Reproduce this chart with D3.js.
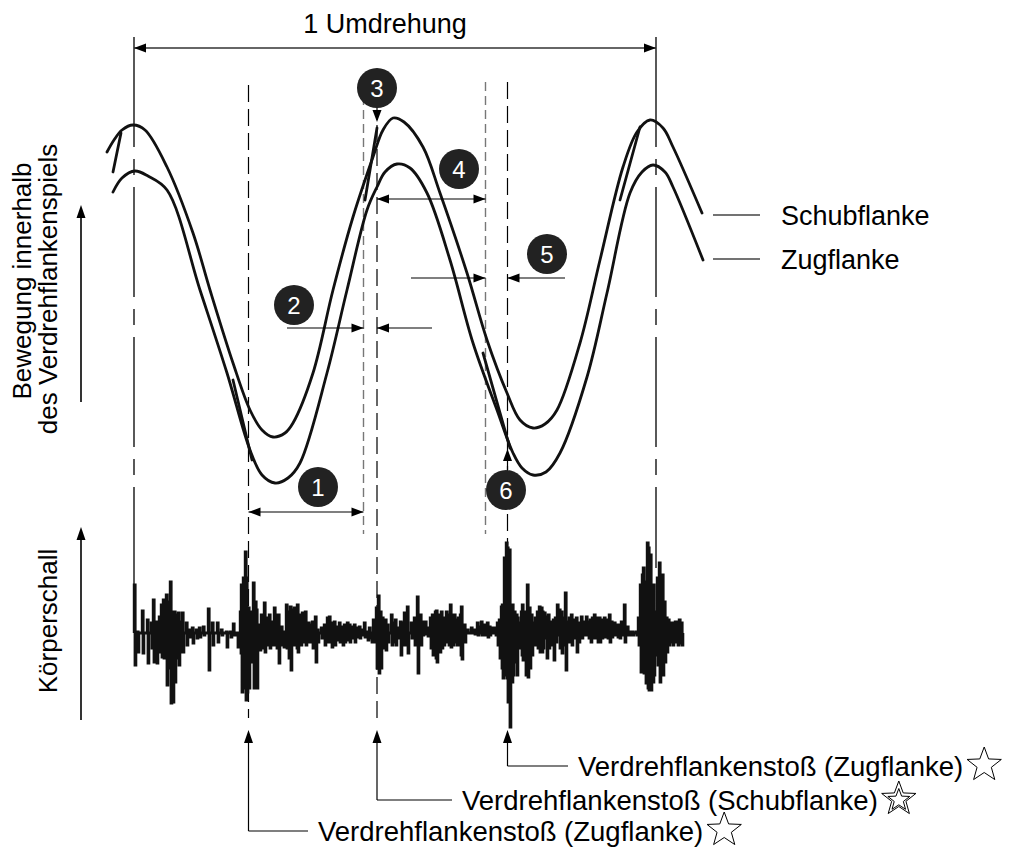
<!DOCTYPE html>
<html>
<head>
<meta charset="utf-8">
<script src="https://cdn.jsdelivr.net/npm/d3@7"></script>
<style>
  html, body { margin: 0; background: #fff; }
  svg { display: block; }
  text { font-family: Arial, "Liberation Sans", Helvetica, sans-serif; fill: #000; }
</style>
</head>
<body>
<svg id="chart" width="1013" height="861"></svg>
<script>
// ---------- data ----------
// Rotation measured in samples; one revolution = 522 samples.
const samplesPerRev = 522;

// Flank motion inside the torsional backlash (arbitrary displacement units)
const schubCurve = [[-27,148],[-20,160],[-12,170],[-1,175],[11,170],[33,133],[59,67],[76,10],[99,-63],[116,-110],[128,-130],[139,-137],[151,-133],[159,-123],[179,-73],[199,10],[219,83],[239,143],[249,170],[259,182],[270,178],[289,153],[306,107],[333,27],[353,-40],[373,-93],[386,-120],[399,-128],[411,-124],[423,-110],[446,-43],[466,40],[489,133],[503,168],[516,180],[529,172],[539,153],[568,87]];
const zugCurve = [[-21,108],[-12,122],[1,129],[14,124],[33,110],[66,10],[93,-73],[116,-150],[128,-175],[141,-183],[154,-178],[166,-163],[193,-73],[213,10],[233,90],[243,113],[251,128],[263,136],[276,132],[293,107],[316,40],[339,-43],[363,-110],[379,-153],[388,-168],[399,-175],[412,-172],[426,-153],[453,-77],[473,7],[496,107],[508,128],[519,135],[531,128],[539,113],[569,40]];
// Flank changes (jumps from one flank to the other)
const flankJumps = [[[-21,128],[-13,167]],[[99,-80],[118,-160]],[[231,100],[243,172]],[[349,-53],[376,-148]],[[486,100],[506,173]]];

// Structure-borne noise: [sample, peak up, peak down]
const bodySound = [[1,48,-32],[4,1,-19],[9,22,-20],[14,13,-30],[18,10,-15],[20,33,-29],[23,11,-30],[26,16,-19],[28,28,-24],[30,33,-25],[33,38,-52],[35,31,-35],[37,51,-70],[39,21,-69],[41,21,-49],[43,18,-25],[45,20,-32],[48,11,-19],[49,20,-19],[53,10,-12],[56,3,-4],[59,5,-10],[63,3,-5],[66,5,-4],[70,6,-2],[75,24,-37],[79,10,-12],[84,10,-9],[88,3,-2],[93,1,-14],[97,1,-4],[100,9,-2],[104,-2,-14],[107,21,-20],[108,48,-59],[110,55,-55],[112,81,-67],[113,55,-59],[115,25,-55],[118,21,-29],[120,50,-55],[122,31,-55],[123,23,-55],[126,8,-17],[128,18,-15],[131,30,-19],[133,15,-12],[136,18,-15],[138,11,-12],[141,25,-12],[143,18,-15],[145,18,-30],[148,6,-12],[150,1,-14],[153,28,-15],[155,21,-25],[157,26,-37],[159,23,-12],[161,25,-12],[163,21,-15],[164,28,-19],[167,18,-12],[169,20,-9],[172,21,-12],[175,10,-9],[178,8,-9],[179,11,-15],[182,16,-29],[184,3,-9],[188,5,-5],[191,8,-12],[194,15,-9],[196,16,-9],[198,10,-14],[201,11,-12],[204,6,-7],[206,10,-9],[209,6,-12],[211,8,-9],[214,10,-7],[216,8,-9],[219,6,-5],[221,8,-9],[224,5,-4],[226,6,-5],[229,3,-2],[231,10,-4],[234,1,-7],[236,5,-5],[238,0,-9],[240,13,-9],[243,25,-35],[245,37,-40],[247,21,-35],[249,15,-15],[252,13,-17],[254,8,-9],[258,18,-12],[260,10,-9],[262,13,-12],[264,5,-5],[267,11,-22],[269,10,-12],[271,20,-12],[274,26,-20],[278,10,-5],[281,15,-12],[284,36,-40],[287,18,-12],[289,11,-2],[292,11,-1],[294,5,-3],[297,15,-15],[299,18,-22],[302,21,-25],[303,22,-29],[306,18,-19],[308,21,-15],[310,15,-12],[313,21,-9],[315,18,-12],[317,28,-14],[319,18,-12],[321,18,-9],[323,13,-12],[325,15,-12],[327,18,-22],[328,26,-26],[331,8,-9],[334,3,0],[338,5,0],[341,3,-1],[344,10,-2],[346,6,0],[348,11,-2],[351,8,-2],[354,10,-4],[356,6,-2],[359,5,0],[362,5,-2],[364,10,-12],[366,13,-25],[368,26,-35],[369,28,-45],[371,75,-42],[373,90,-45],[374,85,-69],[376,83,-94],[378,28,-49],[379,28,-42],[381,21,-29],[383,18,-42],[384,15,-15],[386,10,-15],[388,21,-22],[389,28,-27],[392,21,-42],[394,48,-44],[396,25,-35],[398,18,-22],[400,10,-12],[402,15,-12],[404,21,-15],[406,26,-19],[408,25,-19],[409,21,-15],[411,20,-5],[413,16,-25],[415,18,-15],[418,11,-12],[420,13,-27],[422,15,-9],[424,28,-2],[426,23,-15],[428,21,-20],[430,15,-12],[432,40,-37],[434,11,-9],[436,15,-9],[438,18,-12],[441,13,-5],[443,15,-19],[445,10,-9],[448,16,-5],[450,11,-2],[453,16,-2],[455,11,-5],[457,13,-9],[459,15,-5],[461,18,-5],[464,15,-9],[466,15,-9],[468,13,-5],[471,15,-4],[474,13,-5],[476,18,-9],[478,11,-4],[481,10,-2],[484,8,-4],[486,8,-5],[488,11,-2],[491,28,-9],[494,6,-2],[496,1,-2],[499,1,-2],[503,1,-2],[505,15,-12],[507,48,-39],[509,58,-39],[510,65,-40],[512,51,-50],[514,90,-55],[515,85,-57],[517,78,-57],[519,48,-49],[520,48,-42],[523,21,-22],[524,55,-32],[526,70,-49],[528,58,-42],[529,58,-42],[531,31,-29],[533,15,-19],[535,13,-12],[537,10,-9],[539,10,-12],[542,11,-9],[544,11,-12],[546,13,-10],[548,10,-12]];

// Reference marks (sample positions)
const revolutionMarks = [0, samplesPerRev];
const impactMarks = [114.5, 243, 373.5];     // flank impacts
const flankMarks = [229.5, 351.5];           // flank change begins

// Numbered badges: [number, sample, displacement]
const badges = [[1,184,-187],[2,160,-5],[3,243,212],[4,325,131],[5,413,46],[6,372,-190]];

const seriesLabels = ["Schubflanke", "Zugflanke"];
const impactLabels = ["Verdrehflankenstoß (Zugflanke)", "Verdrehflankenstoß (Schubflanke)", "Verdrehflankenstoß (Zugflanke)"];

// ---------- scales ----------
const svg = d3.select("#chart");
const x = d3.scaleLinear().domain([0, samplesPerRev]).range([134, 656]);
const yMove = d3.scaleLinear().domain([-200, 200]).range([500, 100]);
const ySig = d3.scaleLinear().domain([-110, 110]).range([743, 523]);

function head(g, tx, ty, dx, dy, len = 12, half = 4.5) {
  const bx = tx - dx * len, by = ty - dy * len, px = -dy, py = dx;
  g.append("path")
    .attr("d", `M${tx},${ty}L${bx + px * half},${by + py * half}L${bx - px * half},${by - py * half}Z`)
    .attr("fill", "#000");
}
function starPath(cx, cy, R, r) {
  const pts = [];
  for (let i = 0; i < 10; i++) {
    const a = -Math.PI / 2 + i * Math.PI / 5, rr = i % 2 ? r : R;
    pts.push([cx + rr * Math.cos(a), cy + rr * Math.sin(a)]);
  }
  return "M" + pts.map(p => p.join(",")).join("L") + "Z";
}

const guides = svg.append("g");
// revolution boundaries
guides.selectAll(".rev").data(revolutionMarks).join("line")
  .attr("x1", d => x(d)).attr("x2", d => x(d))
  .attr("y1", 37).attr("y2", (d, i) => i === 0 ? 586 : 568)
  .attr("stroke", "#000").attr("stroke-width", 1.3)
  .attr("stroke-dasharray", "110,12,16,12");
// impact lines
const impactTop = [85, 125, 82], impactBottom = [718, 718, 545];
guides.selectAll(".imp").data(impactMarks).join("line")
  .attr("x1", d => x(d)).attr("x2", d => x(d))
  .attr("y1", (d, i) => impactTop[i]).attr("y2", (d, i) => impactBottom[i])
  .attr("stroke", "#000").attr("stroke-width", 1.2)
  .attr("stroke-dasharray", "17,7");
// flank change lines
guides.selectAll(".flk").data(flankMarks).join("line")
  .attr("x1", d => x(d)).attr("x2", d => x(d))
  .attr("y1", 82).attr("y2", 534)
  .attr("stroke", "#777").attr("stroke-width", 1.4)
  .attr("stroke-dasharray", "9,5");

// one revolution dimension
const dim = svg.append("g");
dim.append("line").attr("x1", x(0)).attr("x2", x(samplesPerRev)).attr("y1", 48).attr("y2", 48)
  .attr("stroke", "#333").attr("stroke-width", 1.3);
head(dim, x(0), 48, -1, 0);
head(dim, x(samplesPerRev), 48, 1, 0);
dim.append("text").attr("x", 385).attr("y", 33).attr("text-anchor", "middle")
  .attr("font-size", 27).text("1 Umdrehung");

// flank curves
const line = d3.line().x(d => x(d[0])).y(d => yMove(d[1])).curve(d3.curveCatmullRom.alpha(0.5));
const curves = svg.append("g").attr("fill", "none").attr("stroke", "#111")
  .attr("stroke-width", 2.8).attr("stroke-linecap", "round");
curves.append("path").attr("d", line(schubCurve));
curves.append("path").attr("d", line(zugCurve));
curves.selectAll(".jump").data(flankJumps).join("path")
  .attr("d", d3.line().x(d => x(d[0])).y(d => yMove(d[1])));

// legend
const legendY = [215, 259];
const leg = svg.append("g");
seriesLabels.forEach((s, i) => {
  leg.append("line").attr("x1", 713).attr("x2", 760).attr("y1", legendY[i]).attr("y2", legendY[i])
    .attr("stroke", "#444").attr("stroke-width", 1.3);
  leg.append("text").attr("x", 781).attr("y", legendY[i] + 10).attr("font-size", 27).text(s);
});

// measurement arrows
const ann = svg.append("g").attr("stroke", "#000").attr("stroke-width", 1.2);
// 1 : impact Zug -> start of flank change
ann.append("line").attr("x1", x(114.5)).attr("x2", x(229.5)).attr("y1", yMove(-212)).attr("y2", yMove(-212));
head(svg, x(114.5), yMove(-212), -1, 0);
head(svg, x(229.5), yMove(-212), 1, 0);
// 2 : flank change duration
ann.append("line").attr("x1", x(153)).attr("x2", x(229.5)).attr("y1", yMove(-28)).attr("y2", yMove(-28));
ann.append("line").attr("x1", x(243)).attr("x2", x(298)).attr("y1", yMove(-28)).attr("y2", yMove(-28));
head(svg, x(229.5), yMove(-28), 1, 0);
head(svg, x(243), yMove(-28), -1, 0);
// 3 : impact on Schubflanke
ann.append("line").attr("x1", x(243)).attr("x2", x(243)).attr("y1", yMove(193)).attr("y2", yMove(180));
head(svg, x(243), yMove(178), 0, 1, 12, 4.5);
// 4 : impact Schub -> start of flank change
ann.append("line").attr("x1", x(243)).attr("x2", x(351.5)).attr("y1", yMove(101)).attr("y2", yMove(101));
head(svg, x(243), yMove(101), -1, 0);
head(svg, x(351.5), yMove(101), 1, 0);
// 5 : flank change duration
ann.append("line").attr("x1", x(277)).attr("x2", x(351.5)).attr("y1", yMove(22)).attr("y2", yMove(22));
ann.append("line").attr("x1", x(373.5)).attr("x2", x(431)).attr("y1", yMove(22)).attr("y2", yMove(22));
head(svg, x(351.5), yMove(22), 1, 0);
head(svg, x(373.5), yMove(22), -1, 0);
// 6 : impact on Zugflanke
ann.append("line").attr("x1", x(373.5)).attr("x2", x(373.5)).attr("y1", yMove(-170)).attr("y2", yMove(-152));
head(svg, x(373.5), yMove(-149), 0, -1, 12, 4.5);

// badges
const bg = svg.append("g").selectAll("g").data(badges).join("g")
  .attr("transform", d => `translate(${x(d[1])},${yMove(d[2])})`);
bg.append("circle").attr("r", 20).attr("fill", "#222");
bg.append("text").attr("text-anchor", "middle").attr("dy", "0.36em")
  .attr("font-size", 24).style("fill", "#fff").text(d => d[0]);

// structure-borne noise trace: each oscillation drawn as a narrow up/down burst
const p = d3.path();
p.moveTo(x(bodySound[0][0] - 1), ySig(0));
bodySound.forEach(([t, hi, lo]) => {
  p.lineTo(x(t - 0.7), ySig(0));
  p.lineTo(x(t - 0.7), ySig(hi));
  p.lineTo(x(t + 0.1), ySig(hi));
  p.lineTo(x(t + 0.1), ySig(lo));
  p.lineTo(x(t + 0.8), ySig(lo));
  p.lineTo(x(t + 0.8), ySig(0));
});
svg.append("path").attr("d", p.toString()).attr("fill", "none")
  .attr("stroke", "#111").attr("stroke-width", 3).attr("stroke-linejoin", "miter");

// impact call-outs
const callY = [831, 800, 766], textX = [318, 462, 578];
const callouts = [0, 1, 2].map(i => ({ mark: impactMarks[i], y: callY[i], tx: textX[i], label: impactLabels[i] }));
const co = svg.append("g");
callouts.forEach((c, i) => {
  const cx = x(c.mark);
  co.append("line").attr("x1", cx).attr("x2", cx).attr("y1", 742).attr("y2", c.y)
    .attr("stroke", "#000").attr("stroke-width", 1.2);
  co.append("line").attr("x1", cx).attr("x2", c.tx - 10).attr("y1", c.y).attr("y2", c.y)
    .attr("stroke", "#000").attr("stroke-width", 1.2);
  head(co, cx, 730, 0, -1, 13, 4.5);
  const t = co.append("text").attr("x", c.tx).attr("y", c.y + 10).attr("font-size", 27.5).text(c.label);
  const bb = t.node().getBBox();
  const sx = bb.x + bb.width + 21, sy = c.y - 1;
  co.append("path").attr("d", starPath(sx, sy, 18, 7.5)).attr("fill", "#fff").attr("stroke", "#000").attr("stroke-width", 1);
  if (i === 1) co.append("path").attr("d", starPath(sx, sy + 1, 11.5, 4.8)).attr("fill", "none").attr("stroke", "#000").attr("stroke-width", 1);
});

// axis captions
const cap = svg.append("g");
cap.append("text").attr("transform", "translate(31,281) rotate(-90)").attr("text-anchor", "middle")
  .attr("font-size", 26).text("Bewegung innerhalb");
cap.append("text").attr("transform", "translate(57,289) rotate(-90)").attr("text-anchor", "middle")
  .attr("font-size", 26).text("des Verdrehflankenspiels");
cap.append("text").attr("transform", "translate(57,621) rotate(-90)").attr("text-anchor", "middle")
  .attr("font-size", 26).text("Körperschall");
[[402, 205], [720, 527]].forEach(([y0, y1]) => {
  cap.append("line").attr("x1", 81).attr("x2", 81).attr("y1", y0).attr("y2", y1 + 10)
    .attr("stroke", "#000").attr("stroke-width", 1.6);
  head(cap, 81, y1, 0, -1, 13, 4.5);
});
</script>
</body>
</html>
